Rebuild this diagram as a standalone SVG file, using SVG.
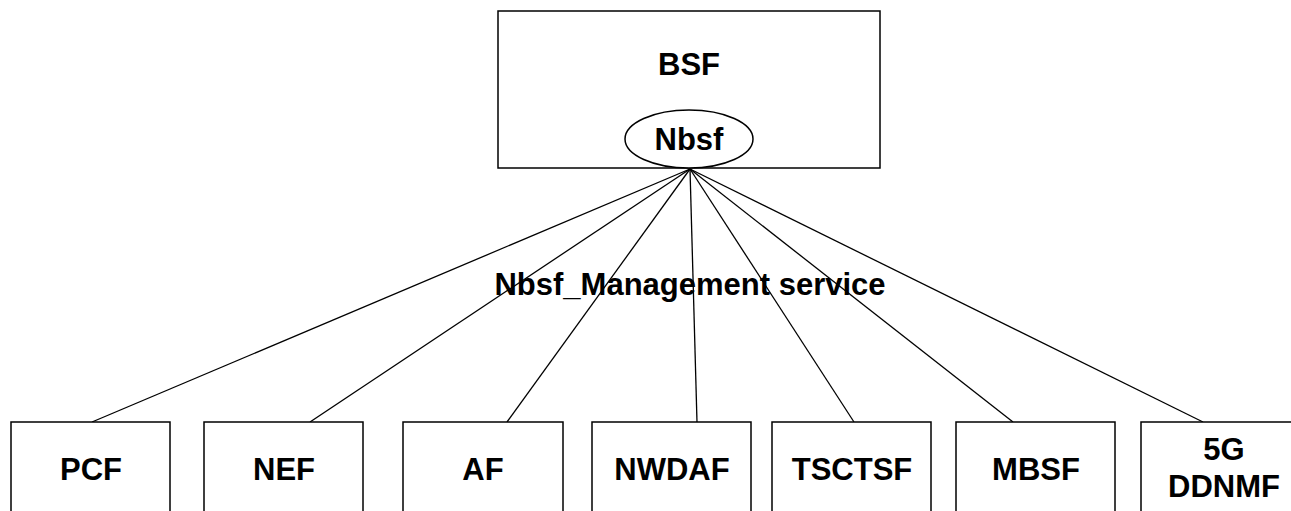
<svg xmlns="http://www.w3.org/2000/svg" width="1291" height="511" viewBox="0 0 1291 511">
<style>
.box{fill:#fff;stroke:#000;stroke-width:1.5}
.lbl{font-family:"Liberation Sans",Arial,sans-serif;font-weight:bold;font-size:31px;text-anchor:middle;fill:#000}
.ln{stroke:#000;stroke-width:1.3;fill:none}
</style>
<rect width="1291" height="511" fill="#fff"/>
<g id="BSF">
<rect class="box" x="498" y="11" width="382" height="157"/>
<text class="lbl" x="689" y="75">BSF</text>
</g>
<g id="connectors">
<line class="ln" x1="690" y1="169" x2="92" y2="422"/>
<line class="ln" x1="690" y1="169" x2="310" y2="422"/>
<line class="ln" x1="690" y1="169" x2="507" y2="422"/>
<line class="ln" x1="690" y1="169" x2="697" y2="422"/>
<line class="ln" x1="690" y1="169" x2="854" y2="422"/>
<line class="ln" x1="690" y1="169" x2="1013" y2="422"/>
<line class="ln" x1="690" y1="169" x2="1203" y2="422"/>
</g>
<g id="Nbsf">
<ellipse class="box" cx="689" cy="139" rx="64" ry="29"/>
<text class="lbl" x="689" y="150">Nbsf</text>
</g>
<g id="service-label">
<text class="lbl" x="690" y="295">Nbsf_Management service</text>
</g>
<g id="PCF"><rect class="box" x="11" y="422" width="159" height="100"/><text class="lbl" x="91" y="480">PCF</text></g>
<g id="NEF"><rect class="box" x="204" y="422" width="159" height="100"/><text class="lbl" x="284" y="480">NEF</text></g>
<g id="AF"><rect class="box" x="403" y="422" width="160" height="100"/><text class="lbl" x="483" y="480">AF</text></g>
<g id="NWDAF"><rect class="box" x="592" y="422" width="159" height="100"/><text class="lbl" x="672" y="480">NWDAF</text></g>
<g id="TSCTSF"><rect class="box" x="772" y="422" width="159" height="100"/><text class="lbl" x="852" y="480">TSCTSF</text></g>
<g id="MBSF"><rect class="box" x="956" y="422" width="159" height="100"/><text class="lbl" x="1036" y="480">MBSF</text></g>
<g id="DDNMF"><rect class="box" x="1141" y="422" width="170" height="100"/><text class="lbl" x="1224" y="460">5G</text><text class="lbl" x="1224" y="497">DDNMF</text></g>
</svg>
